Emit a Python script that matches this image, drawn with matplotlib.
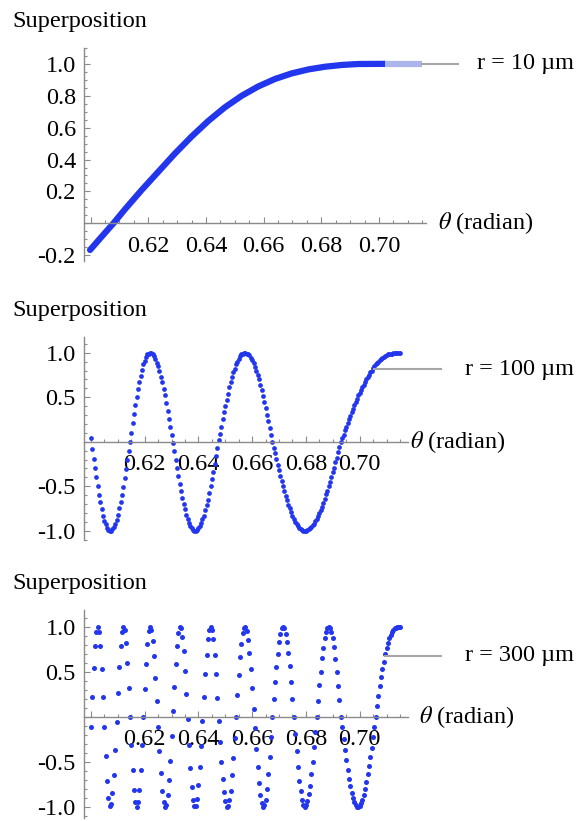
import numpy as np
import matplotlib
matplotlib.use("Agg")
import matplotlib.pyplot as plt
from matplotlib.ticker import MultipleLocator

plt.rcParams['font.family'] = ['Liberation Serif', 'DejaVu Serif']
plt.rcParams['mathtext.fontset'] = 'stix'
plt.rcParams['axes.unicode_minus'] = False

# ---- data ----
# r = 10 um: smooth curve (points along the thick trace)
theta_10 = [0.5998, 0.6038, 0.6079, 0.6119, 0.6177, 0.6235, 0.6293, 0.6350,
            0.6408, 0.6466, 0.6524, 0.6581, 0.6639, 0.6697, 0.6755, 0.6813,
            0.6871, 0.6928, 0.7021]
sup_10 = [-0.167, -0.084, 0.0, 0.088, 0.209, 0.324, 0.439, 0.544,
          0.642, 0.728, 0.800, 0.858, 0.905, 0.940, 0.965, 0.982,
          0.993, 0.999, 1.0]
theta_10_tail = [0.7021, 0.715]
sup_10_tail = [1.0, 1.0]

# r = 100 um and r = 300 um: one dot per sample, 0.600 ... 0.715
sup_100 = [
    0.04, -0.08, -0.19, -0.29, -0.40, -0.50, -0.60, -0.68, -0.76, -0.83,
    -0.89, -0.93, -0.97, -0.99, -1.00, -1.00, -0.98, -0.96, -0.92, -0.88,
    -0.82, -0.75, -0.68, -0.60, -0.51, -0.41, -0.31, -0.21, -0.11, 0.00,
    0.10, 0.21, 0.31, 0.41, 0.50, 0.59, 0.67, 0.74, 0.81, 0.87,
    0.91, 0.95, 0.98, 0.99, 1.00, 1.00, 0.98, 0.96, 0.93, 0.89,
    0.85, 0.79, 0.73, 0.67, 0.59, 0.52, 0.43, 0.35, 0.26, 0.17,
    0.08, -0.02, -0.11, -0.21, -0.30, -0.39, -0.47, -0.55, -0.63, -0.70,
    -0.76, -0.82, -0.87, -0.91, -0.95, -0.97, -0.99, -1.00, -1.00, -0.99,
    -0.97, -0.95, -0.91, -0.87, -0.83, -0.77, -0.71, -0.65, -0.58, -0.50,
    -0.42, -0.34, -0.25, -0.16, -0.07, 0.02, 0.09, 0.17, 0.25, 0.33,
    0.40, 0.47, 0.54, 0.61, 0.67, 0.73, 0.78, 0.82, 0.87, 0.90,
    0.93, 0.96, 0.98, 0.99, 1.00, 1.00, 0.99, 0.98, 0.97, 0.94,
    0.92, 0.88, 0.84, 0.80, 0.75, 0.70, 0.64, 0.58, 0.51, 0.45,
    0.38, 0.30, 0.23, 0.15, 0.08, 0.00, -0.07, -0.13, -0.19, -0.26,
    -0.32, -0.38, -0.44, -0.50, -0.55, -0.61, -0.66, -0.71, -0.75, -0.79,
    -0.83, -0.87, -0.90, -0.92, -0.95, -0.97, -0.98, -0.99, -1.00, -1.00,
    -1.00, -0.99, -0.98, -0.97, -0.96, -0.94, -0.92, -0.89, -0.87, -0.84,
    -0.80, -0.77, -0.73, -0.69, -0.64, -0.59, -0.55, -0.50, -0.45, -0.40,
    -0.34, -0.29, -0.23, -0.18, -0.12, -0.06, 0.00, 0.04, 0.08, 0.13,
    0.17, 0.21, 0.25, 0.29, 0.33, 0.37, 0.41, 0.45, 0.48, 0.52,
    0.55, 0.58, 0.61, 0.64, 0.67, 0.70, 0.73, 0.75, 0.78, 0.80,
    0.83, 0.85, 0.87, 0.89, 0.90, 0.92, 0.93, 0.94, 0.95, 0.96,
    0.97, 0.98, 0.99, 0.99, 0.99, 1.00, 1.00, 1.00, 1.00, 1.00,
    1.00]

sup_300 = [
    -0.11, 0.22, 0.54, 0.78, 0.94, 1.00, 0.94, 0.78, 0.53, 0.22,
    -0.12, -0.44, -0.71, -0.90, -0.99, -0.97, -0.85, -0.65, -0.37, -0.06,
    0.26, 0.55, 0.78, 0.94, 1.00, 0.96, 0.82, 0.60, 0.32, 0.00,
    -0.31, -0.59, -0.81, -0.95, -1.00, -0.95, -0.81, -0.59, -0.31, 0.00,
    0.31, 0.59, 0.81, 0.95, 1.00, 0.96, 0.84, 0.67, 0.43, 0.17,
    -0.12, -0.38, -0.62, -0.82, -0.95, -1.00, -0.98, -0.87, -0.70, -0.49,
    -0.22, 0.06, 0.33, 0.58, 0.79, 0.93, 1.00, 0.98, 0.89, 0.73,
    0.51, 0.25, -0.03, -0.31, -0.57, -0.78, -0.92, -0.99, -0.99, -0.91,
    -0.76, -0.56, -0.32, -0.05, 0.22, 0.47, 0.69, 0.86, 0.96, 1.00,
    0.96, 0.86, 0.68, 0.47, 0.21, -0.05, -0.28, -0.50, -0.69, -0.84,
    -0.94, -1.00, -0.99, -0.93, -0.82, -0.65, -0.46, -0.24, 0.00, 0.24,
    0.46, 0.66, 0.81, 0.93, 0.99, 1.00, 0.95, 0.85, 0.71, 0.53,
    0.32, 0.09, -0.13, -0.36, -0.56, -0.74, -0.87, -0.96, -1.00, -0.98,
    -0.92, -0.80, -0.64, -0.45, -0.23, 0.00, 0.20, 0.39, 0.55, 0.70,
    0.83, 0.92, 0.98, 1.00, 0.98, 0.92, 0.83, 0.71, 0.56, 0.38,
    0.20, 0.00, -0.19, -0.38, -0.56, -0.71, -0.83, -0.92, -0.98, -1.00,
    -0.98, -0.94, -0.86, -0.77, -0.64, -0.50, -0.34, -0.17, 0.00, 0.17,
    0.35, 0.50, 0.65, 0.76, 0.87, 0.94, 0.99, 1.00, 0.98, 0.94,
    0.87, 0.77, 0.64, 0.50, 0.34, 0.18, 0.00, -0.12, -0.25, -0.37,
    -0.48, -0.59, -0.69, -0.77, -0.85, -0.90, -0.95, -0.98, -1.00, -1.00,
    -0.99, -0.96, -0.92, -0.87, -0.80, -0.73, -0.64, -0.55, -0.45, -0.35,
    -0.23, -0.12, 0.00, 0.12, 0.23, 0.34, 0.44, 0.53, 0.61, 0.70,
    0.76, 0.82, 0.87, 0.91, 0.94, 0.96, 0.98, 0.99, 1.00, 1.00,
    1.00]

# sample positions (evenly spaced columns of dots)
theta_s = np.linspace(0.600, 0.715, len(sup_100))

x_ticks = [0.60, 0.62, 0.64, 0.66, 0.68, 0.70]
x_labels = ['', '0.62', '0.64', '0.66', '0.68', '0.70']
y_ticks_10 = [-0.2, 0.2, 0.4, 0.6, 0.8, 1.0]
y_labels_10 = ['-0.2', '0.2', '0.4', '0.6', '0.8', '1.0']
y_ticks_osc = [-1.0, -0.5, 0.5, 1.0]
y_labels_osc = ['-1.0', '-0.5', '0.5', '1.0']
radius_labels = [u'r = 10 \u00b5m', u'r = 100 \u00b5m', u'r = 300 \u00b5m']

BLUE = '#2236ee'
GRAY = '#a6a6a6'
AXC = '#8a8a8a'
FS = 17.5
W, H = 579, 821

fig = plt.figure(figsize=(W / 100, H / 100), dpi=100)


def px_axes(left, right, top, bottom):
    return fig.add_axes([left / W, 1 - bottom / H, (right - left) / W, (bottom - top) / H])


def style(ax, xlim, ylim, yt, yl, yminor):
    ax.set_xlim(*xlim)
    ax.set_ylim(*ylim)
    for s in ['top', 'right']:
        ax.spines[s].set_visible(False)
    ax.spines['bottom'].set_position(('data', 0))
    for s in ['bottom', 'left']:
        ax.spines[s].set_color(AXC)
        ax.spines[s].set_linewidth(1.0)
    ax.set_xticks(x_ticks)
    ax.set_xticklabels(x_labels)
    ax.set_yticks(yt)
    ax.set_yticklabels(yl)
    ax.xaxis.set_minor_locator(MultipleLocator(0.005))
    ax.yaxis.set_minor_locator(MultipleLocator(yminor))
    ax.tick_params(which='both', direction='in', color=AXC, labelsize=FS, width=0.8)
    ax.tick_params(which='major', length=4.5)
    ax.tick_params(which='minor', length=2.5)
    ax.tick_params(axis='x', pad=9)
    ax.tick_params(axis='y', pad=6)
    ax.patch.set_alpha(0)


# ---- panel 1 ----
ax1 = px_axes(84.3, 426, 47.9, 260.8)
style(ax1, (0.5978, 0.7163), (-0.235, 1.10), y_ticks_10, y_labels_10, 0.05)
ax1.plot(theta_10, sup_10, color=BLUE, lw=4.5, solid_capstyle='round')
ax1.plot(theta_10_tail, sup_10_tail, color='#aab5ec', lw=4.5, solid_capstyle='butt')
ax1.plot([0.715, 0.7273], [1.0, 1.0], color=GRAY, lw=1.5, clip_on=False)

# ---- panel 2 ----
ax2 = px_axes(84, 408, 336.7, 539.6)
style(ax2, (0.5974, 0.7180), (-1.10, 1.18), y_ticks_osc, y_labels_osc, 0.1)
ax2.plot(theta_s, sup_100, 'o', color=BLUE, ms=3.4, mew=0)
ax2.plot([0.7055, 0.7303], [0.82, 0.82], color=GRAY, lw=1.5, clip_on=False)

# ---- panel 3 ----
ax3 = px_axes(84, 408, 610.5, 817.5)
style(ax3, (0.5974, 0.7180), (-1.12, 1.18), y_ticks_osc, y_labels_osc, 0.1)
ax3.plot(theta_s, sup_300, 'o', color=BLUE, ms=3.6, mew=0)
ax3.plot([0.7095, 0.7303], [0.67, 0.67], color=GRAY, lw=1.5, clip_on=False)

# ---- texts ----
def ftext(x, y, s, **kw):
    fig.text(x / W, 1 - y / H, s, fontsize=FS, **kw)


for yy in [21.7, 310, 583]:
    ftext(12, yy, 'Superposition', ha='left', va='center')
for xx, yy in [(437.5, 223.3), (410, 441.7), (419, 716.7)]:
    ftext(xx, yy, r'$\theta$ (radian)', ha='left', va='center')
for lab, yy in zip(radius_labels, [63.8, 369, 655]):
    ftext(574, yy, lab, ha='right', va='center')

fig.savefig('out.png', dpi=100)
